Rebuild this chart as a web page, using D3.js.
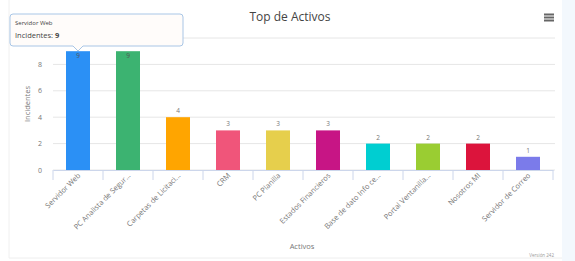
<!DOCTYPE html>
<html>
<head>
<meta charset="utf-8">
<script src="https://cdn.jsdelivr.net/npm/d3@7"></script>
<style>
  body { margin:0; background:#fff; }
  svg { font-family: "Open Sans", "DejaVu Sans", sans-serif; }
</style>
</head>
<body>
<svg width="575" height="261"></svg>
<script>
var activos = ["Servidor Web","PC Analista de Segur...","Carpetas de Licitaci...","CRM","PC Planilla",
               "Estados Financieros","Base de dato Info ce...","Portal Ventanilla...","Nosotros MI","Servidor de Correo"];
var incidentes = [9,9,4,3,3,3,2,2,2,1];
var colores = ["#2b90f5","#3cb371","#ffa500","#f0557a","#e6cf4c","#c71585","#00ced1","#9acd32","#dc143c","#7b7bea"];
var yTicks = [0,2,4,6,8,10];

var svg = d3.select("svg");

// fondo a la derecha y borde del panel
svg.append("rect").attr("x",562).attr("y",0).attr("width",13).attr("height",261).attr("fill","#f3f8fd");
svg.append("line").attr("x1",9).attr("x2",9).attr("y1",0).attr("y2",258).attr("stroke","#f0f0f0");
svg.append("line").attr("x1",9).attr("x2",562).attr("y1",258).attr("y2",258).attr("stroke","#eeeeee");

var x = d3.scaleBand().domain(activos).range([53,553]).paddingInner(0.52).paddingOuter(0.26);
var band = d3.scaleBand().domain(activos).range([53,553]);
var y = d3.scaleLinear().domain([0,10]).range([170,38]);

// grid
svg.append("g").selectAll("line").data(yTicks).enter().append("line")
   .attr("x1",53).attr("x2",555)
   .attr("y1",function(d){return y(d)}).attr("y2",function(d){return y(d)})
   .attr("stroke","#e6e6e6");

svg.append("g").selectAll("text").data(yTicks.slice(0,5)).enter().append("text")
   .attr("x",42).attr("y",function(d){return y(d)+2.5})
   .attr("text-anchor","end").attr("font-size",7).attr("fill","#777")
   .text(function(d){return d});

// barras
svg.append("g").selectAll("rect").data(incidentes).enter().append("rect")
   .attr("x",function(d,i){return x(activos[i])})
   .attr("width",x.bandwidth())
   .attr("y",function(d){return y(d)})
   .attr("height",function(d){return y(0)-y(d)})
   .attr("fill",function(d,i){return colores[i]});

svg.append("g").selectAll("text").data(incidentes).enter().append("text")
   .attr("x",function(d,i){return x(activos[i])+x.bandwidth()/2})
   .attr("y",function(d){ return y(d)-5 < 50 ? y(d)+7 : y(d)-4 })
   .attr("text-anchor","middle").attr("font-size",6.5)
   .attr("fill",function(d){ return y(d)-5 < 50 ? "#555" : "#777" })
   .text(function(d){return d});

// eje x
var xAxis = d3.axisBottom(band).tickSize(0).tickFormat("");
svg.append("g").attr("transform","translate(0,170)").call(xAxis)
   .call(function(g){ g.select(".domain").attr("stroke","#ccd6eb"); });

svg.append("g").selectAll("line").data(d3.range(activos.length+1)).enter().append("line")
   .attr("x1",function(d){return 53+d*band.step()}).attr("x2",function(d){return 53+d*band.step()})
   .attr("y1",170).attr("y2",180).attr("stroke","#ccd6eb");

svg.append("g").selectAll("text").data(activos).enter().append("text")
   .attr("transform",function(d){return "translate("+(band(d)+band.bandwidth()/2+3)+",176) rotate(-45)"})
   .attr("text-anchor","end").attr("font-size",7.4).attr("fill","#777")
   .text(function(d){return d});

// títulos
svg.append("text").attr("x",290).attr("y",21).attr("text-anchor","middle")
   .attr("font-size",12).attr("fill","#444").text("Top de Activos");
svg.append("text").attr("x",302).attr("y",249).attr("text-anchor","middle")
   .attr("font-size",7.5).attr("fill","#777").text("Activos");
svg.append("text").attr("transform","translate(30,104) rotate(-90)").attr("text-anchor","middle")
   .attr("font-size",7.5).attr("fill","#777").text("Incidentes");
svg.append("text").attr("x",554).attr("y",257).attr("text-anchor","end")
   .attr("font-size",4.5).attr("fill","#999").text("Versión 242");

// menú
svg.append("g").selectAll("rect").data([0,1,2]).enter().append("rect")
   .attr("x",544).attr("y",function(d){return 13.5+d*3}).attr("width",10).attr("height",2)
   .attr("fill","#666");

// tooltip
var tip = svg.append("g");
tip.append("path")
   .attr("d","M13,14 H180 Q183,14 183,17 V43 Q183,46 180,46 H83 L78,51 L73,46 H13 Q10,46 10,43 V17 Q10,14 13,14 Z")
   .attr("fill","rgba(255,252,250,0.94)").attr("stroke","#a9c6e6").attr("stroke-width",1);
tip.append("text").attr("x",15).attr("y",25).attr("font-size",6).attr("fill","#444").text(activos[0]);
var t2 = tip.append("text").attr("x",15).attr("y",38).attr("font-size",7.5).attr("fill","#444");
t2.append("tspan").text("Incidentes: ");
t2.append("tspan").attr("font-weight","bold").text(incidentes[0]);
</script>
</body>
</html>
